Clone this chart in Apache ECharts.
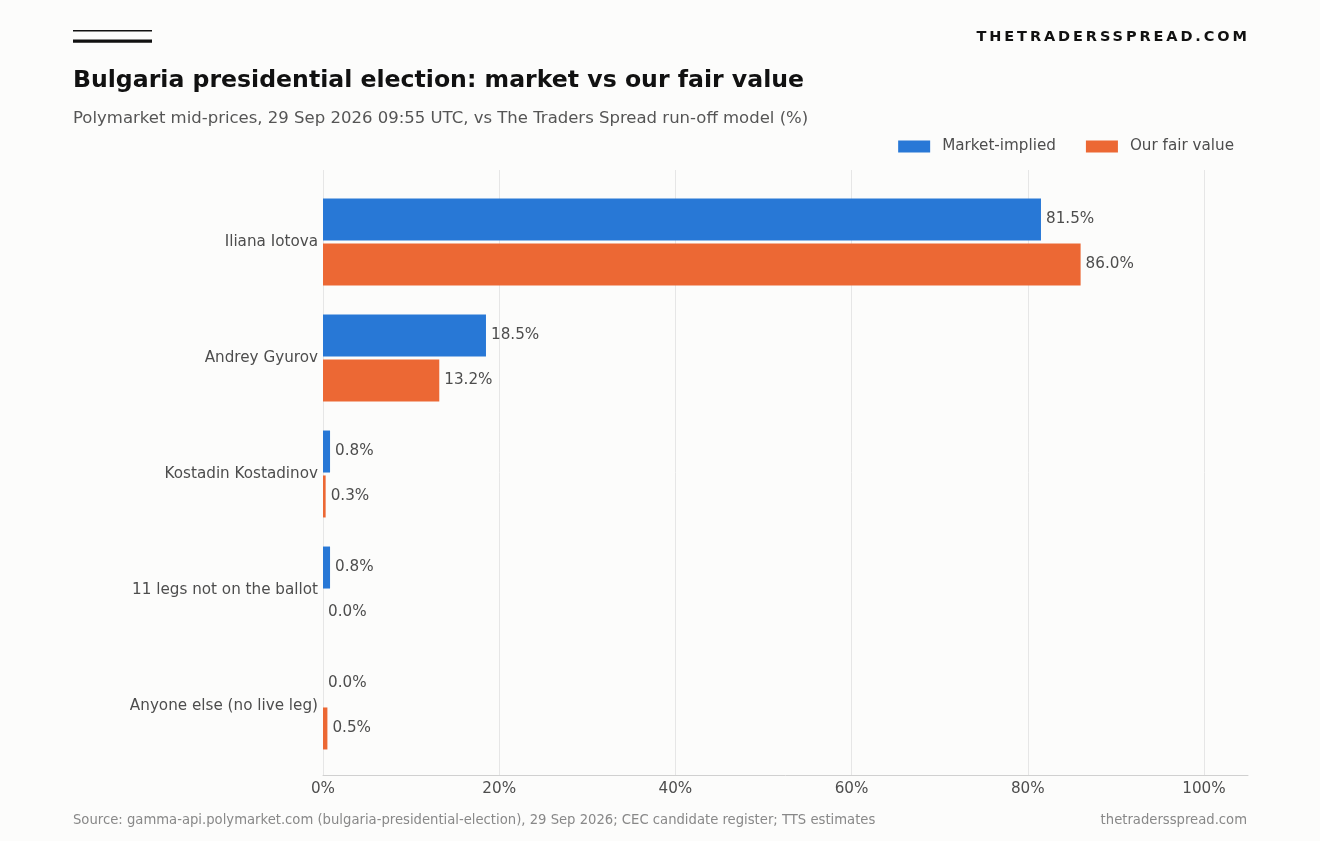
<!DOCTYPE html>
<html>
<head>
<meta charset="utf-8">
<script src="https://cdn.jsdelivr.net/npm/echarts@6/dist/echarts.min.js"></script>
<style>
html,body{margin:0;padding:0;background:#fcfcfb;}
#wrap{position:relative;width:1320px;height:841px;}
#chart{width:1320px;height:841px;}
#brand{position:absolute;right:73px;top:27px;font:bold 14.5px "DejaVu Sans";letter-spacing:2.9px;color:#111;margin-right:-2.9px;line-height:18px;}
</style>
</head>
<body>
<div id="wrap">
<div id="chart"></div>
<div id="brand">THETRADERSSPREAD.COM</div>
</div>
<script>
const categories = ["Iliana Iotova", "Andrey Gyurov", "Kostadin Kostadinov", "11 legs not on the ballot", "Anyone else (no live leg)"];
const marketImplied = [81.5, 18.5, 0.8, 0.8, 0.0];
const fairValue = [86.0, 13.2, 0.3, 0.0, 0.5];
const seriesNames = ["Market-implied", "Our fair value"];
const xTicks = [0, 20, 40, 60, 80, 100];

const FONT = "DejaVu Sans";
const TXT = "#4d4d4d";
const FS = 15.2;
const chart = echarts.init(document.getElementById('chart'), null, {renderer: 'canvas'});

const option = {
  backgroundColor: '#fcfcfb',
  animation: false,
  textStyle: {fontFamily: FONT},
  title: [
    {text: 'Bulgaria presidential election: market vs our fair value', left: 73, top: 69, padding: 0,
     textStyle: {fontFamily: FONT, fontSize: 23.6, fontWeight: 'bold', color: '#111'}},
    {text: 'Polymarket mid-prices, 29 Sep 2026 09:55 UTC, vs The Traders Spread run-off model (%)', left: 73, top: 110, padding: 0,
     textStyle: {fontFamily: FONT, fontSize: 16.5, fontWeight: 'normal', color: '#555'}}
  ],
  legend: {
    data: seriesNames, right: 86, top: 139, itemWidth: 32, itemHeight: 12, itemGap: 30, padding: 0,
    icon: 'rect',
    textStyle: {fontFamily: FONT, fontSize: FS, color: TXT, padding: [0,0,0,7]}
  },
  graphic: [
    {type: 'rect', shape: {x: 73, y: 30, width: 79, height: 1.6}, style: {fill: '#111'}},
    {type: 'rect', shape: {x: 73, y: 39.5, width: 79, height: 3.2}, style: {fill: '#111'}},
    {type: 'text', left: 73, top: 814, style: {text: 'Source: gamma-api.polymarket.com (bulgaria-presidential-election), 29 Sep 2026; CEC candidate register; TTS estimates', font: '13.2px "DejaVu Sans"', fill: '#888'}},
    {type: 'text', right: 73, top: 814, style: {text: 'thetradersspread.com', font: '13.2px "DejaVu Sans"', fill: '#888'}}
  ],
  grid: [
    {left: 323, right: 72, top: 170, bottom: 66, containLabel: false},
    {left: 323, right: 72, top: 184, bottom: 77, containLabel: false}
  ],
  xAxis: [
    {type: 'value', gridIndex: 0, min: 0, max: 105, interval: 20,
     axisLine: {show: true, lineStyle: {color: '#d0d0d0', width: 1}},
     axisTick: {show: false},
     axisLabel: {fontFamily: FONT, fontSize: FS, color: TXT, margin: 7, showMaxLabel: false,
       formatter: v => xTicks.includes(v) ? v + '%' : ''},
     splitLine: {show: true, showMaxLine: false, lineStyle: {color: '#e6e6e6', width: 1}}},
    {type: 'value', gridIndex: 1, min: 0, max: 105, interval: 20, show: false,
     splitLine: {show: false}}
  ],
  yAxis: [
    {type: 'category', gridIndex: 0, data: [''], show: false},
    {type: 'category', gridIndex: 1, data: categories, inverse: true,
     axisLine: {show: false}, axisTick: {show: false},
     axisLabel: {fontFamily: FONT, fontSize: FS, color: TXT, margin: 5}}
  ],
  series: [
    {name: seriesNames[0], type: 'bar', xAxisIndex: 1, yAxisIndex: 1, data: marketImplied,
     barWidth: 42, barGap: '7%', itemStyle: {color: '#2878d6'},
     label: {show: true, position: 'right', distance: 5, fontFamily: FONT, fontSize: FS, color: TXT,
       formatter: p => p.value.toFixed(1) + '%'}},
    {name: seriesNames[1], type: 'bar', xAxisIndex: 1, yAxisIndex: 1, data: fairValue,
     barWidth: 42, barGap: '7%', itemStyle: {color: '#ec6834'},
     label: {show: true, position: 'right', distance: 5, fontFamily: FONT, fontSize: FS, color: TXT,
       formatter: p => p.value.toFixed(1) + '%'}}
  ]
};
chart.setOption(option);
</script>
</body>
</html>
